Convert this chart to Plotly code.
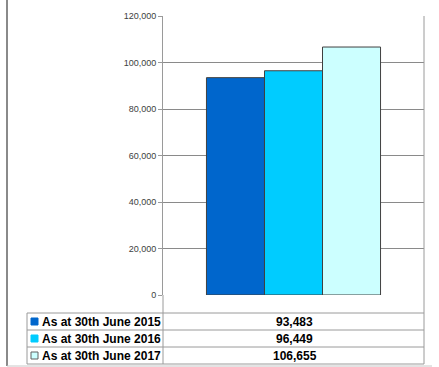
import plotly.graph_objects as go

series_names = ["As at 30th June 2015", "As at 30th June 2016", "As at 30th June 2017"]
series_values = [93483, 96449, 106655]
series_colors = ["#0066CC", "#00CCFF", "#CCFFFF"]
y_ticks = [0, 20000, 40000, 60000, 80000, 100000, 120000]

W, H = 439, 367

def px(x):
    return x / W

def py(y):
    return 1 - y / H

PL, PR, PT, PB = 163, 424, 16, 295

fig = go.Figure()
for name, val, col in zip(series_names, series_values, series_colors):
    fig.add_trace(go.Bar(
        x=[0], y=[val], name=name,
        marker=dict(color=col, line=dict(color="#404040", width=1)),
        showlegend=False,
    ))

shapes = []
line_col = "#9a9a9a"

def hline(x0, x1, y, color=line_col, w=1):
    shapes.append(dict(type="line", xref="paper", yref="paper",
                       x0=px(x0), x1=px(x1), y0=py(y), y1=py(y),
                       line=dict(color=color, width=w)))

def vline(x, y0, y1, color=line_col, w=1):
    shapes.append(dict(type="line", xref="paper", yref="paper",
                       x0=px(x), x1=px(x), y0=py(y0), y1=py(y1),
                       line=dict(color=color, width=w)))

# plot right border and axis extension through table
vline(PR, PT, 364)
vline(PL, PB, 364)
# table
row_lines = [313, 330, 347, 364]
for y in row_lines:
    hline(27, PR, y)
vline(27, 313, 364)
# outer frame
vline(7, 0, 366, color="#8a8a8a", w=2)
hline(7, 432, 366, color="#c8c8c8", w=1)

annotations = []
for i, (name, val, col) in enumerate(zip(series_names, series_values, series_colors)):
    y0, y1 = row_lines[i], row_lines[i + 1]
    yc = (y0 + y1) / 2
    shapes.append(dict(type="rect", xref="paper", yref="paper",
                       x0=px(31), x1=px(38), y0=py(yc + 3.5), y1=py(yc - 3.5),
                       fillcolor=col,
                       line=dict(color="#606060" if i == 2 else col, width=1)))
    annotations.append(dict(xref="paper", yref="paper", x=px(40), y=py(yc),
                            text=f"<b>{name}</b>", showarrow=False, xanchor="left", yanchor="middle",
                            font=dict(family="Liberation Sans, Arial", size=12, color="#000000")))
    annotations.append(dict(xref="paper", yref="paper", x=px((PL + PR) / 2 + 1), y=py(yc),
                            text=f"<b>{val:,}</b>", showarrow=False, xanchor="center", yanchor="middle",
                            font=dict(family="Liberation Sans, Arial", size=12, color="#000000")))

fig.update_layout(
    width=W, height=H,
    margin=dict(l=0, r=0, t=0, b=0, pad=0, autoexpand=False),
    paper_bgcolor="white", plot_bgcolor="white",
    barmode="group", bargap=0.333, bargroupgap=0,
    xaxis=dict(domain=[px(PL), px(PR)], range=[-0.5, 0.5], showticklabels=False,
               showgrid=False, zeroline=False, showline=False, fixedrange=True,
               automargin=False),
    yaxis=dict(domain=[py(PB), py(PT)], range=[0, 120000], tickvals=y_ticks,
               tickformat=",", showgrid=True, gridcolor="#8a8a8a", gridwidth=1,
               zeroline=False, showline=True, linecolor="#9a9a9a", linewidth=1,
               ticks="outside", ticklen=4, tickcolor="#9a9a9a", automargin=False,
               tickfont=dict(family="Liberation Sans, Arial", size=9, color="#404040")),
    shapes=shapes, annotations=annotations,
)

fig.write_html(
    "out.html",
    config={"displayModeBar": False},
    post_script="document.body.style.margin='0';document.body.style.overflow='hidden';",
)
